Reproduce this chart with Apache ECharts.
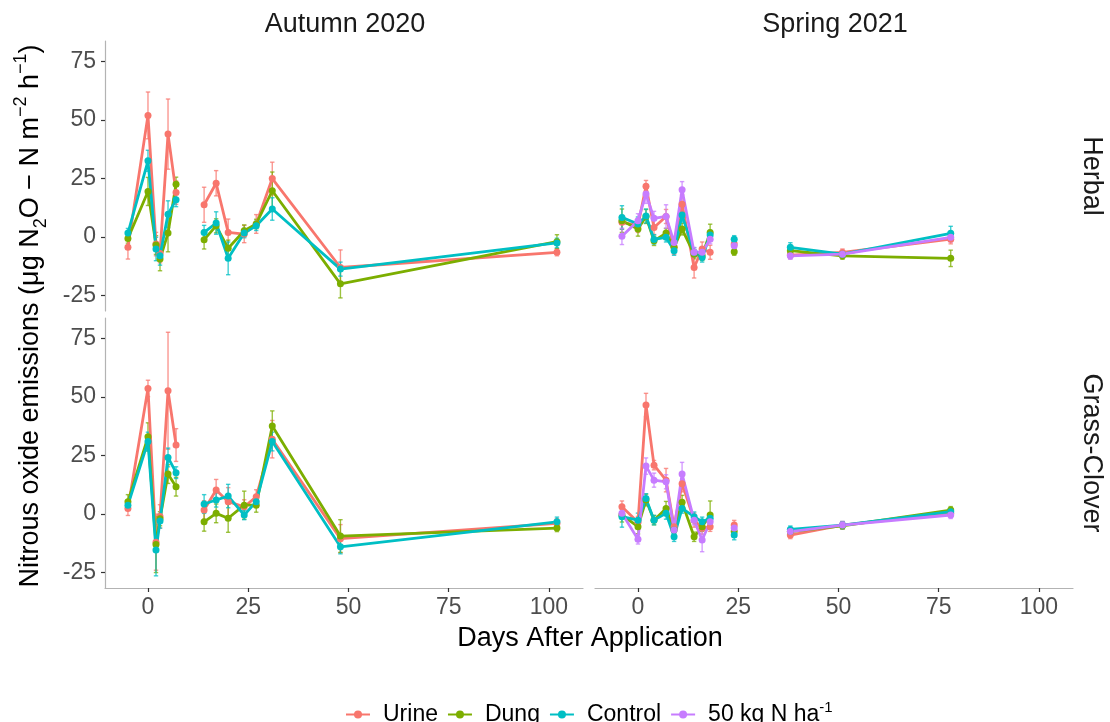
<!DOCTYPE html>
<html>
<head>
<meta charset="utf-8">
<script src="https://cdn.jsdelivr.net/npm/echarts@6/dist/echarts.min.js"></script>
<style>html,body{margin:0;padding:0;background:#fff;}#c{width:1110px;height:722px;}</style>
</head>
<body>
<div id="c"></div>
<script>
// ---- data ----
const seriesNames = ['Urine', 'Dung', 'Control', '50 kg N ha-1'];
const autumnDays = [-5, 0, 2, 3, 5, 7, 14, 17, 20, 24, 27, 31, 48, 102];
const springDays = [-4, 0, 2, 4, 7, 9, 11, 14, 16, 18, 24, 38, 51, 78];
const autumnBreaks = [6];        // line breaks before these indices
const springBreaks = [10, 11];
const xTicks = [0, 25, 50, 75, 100];
const yTicks = [-25, 0, 25, 50, 75];

// Herbal, Autumn 2020
const herbAutUrine    = [-4.4, 52, -3, -7, 44, 19, 13.8, 23, 2, 1.3, 5.6, 25, -13, -6.5];
const herbAutUrineErr = [5, 10, 5, 4, 15, 5, 7.5, 5.4, 5.7, 3.7, 4, 7, 7.5, 1.5];
const herbAutDung     = [-0.6, 19.5, -3.4, -9.4, 1.7, 22.6, -1.1, 4.8, -4.8, 2.7, 5.6, 19.8, -20, -2];
const herbAutDungErr  = [2, 6, 4, 5, 8, 3, 4, 3, 3.5, 2.5, 2, 8, 6, 3];
const herbAutCtrl     = [1.7, 32.6, -5.1, -8, 9.8, 16, 2, 6, -9.1, 1.7, 4.8, 12, -13.7, -2.5];
const herbAutCtrlErr  = [2, 4.5, 5, 4, 5.7, 3, 3, 4.8, 7, 2, 2, 4.8, 3, 2];

// Herbal, Spring 2021
const herbSprUrine    = [6.3, 5, 21.7, 4.1, 8.8, -4.4, 14, -13, -5.1, -6.5, -3, -7.7, -6.6, -0.9];
const herbSprUrineErr = [3, 3, 2.5, 3, 3, 3, 4, 4.5, 3, 3, 2, 1.5, 1.5, 2];
const herbSprDung     = [7, 3.4, 8.8, -1.6, 1.7, -4.4, 3.4, -7.3, -8, 2, -6.3, -5.8, -8, -9.1];
const herbSprDungErr  = [5, 3, 3, 2, 2, 2, 2.5, 2, 2, 3.5, 1.5, 2, 1.5, 3.5];
const herbSprCtrl     = [8.4, 5.6, 9, -1, -0.1, -5.8, 9.4, -6.5, -8.7, 0.9, -0.9, -4.4, -7.3, 1.6];
const herbSprCtrlErr  = [5, 3, 3, 2, 2, 2, 3, 2, 2, 2, 1.5, 2, 1.5, 3];
const herbSprFifty    = [0.3, 7, 18.4, 8, 8.8, -2.3, 20.2, -6.5, -6.5, -0.9, -3.7, -8, -7.3, -0.1];
const herbSprFiftyErr = [3.5, 3, 4, 3, 5, 2, 3.5, 2, 2, 2, 1.5, 1.5, 1.5, 2];

// Grass-Clover, Autumn 2020
const gcAutUrine    = [2.4, 53.7, -12, -1, 52.7, 29.5, 1.7, 10.3, 5.3, 3.1, 7.4, 32, -10.5, -4];
const gcAutUrineErr = [3, 3.5, 12, 5, 25, 7, 4, 4.5, 6, 3, 3, 8, 6, 2];
const gcAutDung     = [5.3, 33, -13, -2, 17.1, 11.7, -3.3, 0.3, -1.8, 3.8, 3.8, 37.6, -9.4, -6];
const gcAutDungErr  = [3, 6, 12, 3, 4, 4, 4, 4, 6, 6, 3, 6.5, 7, 1.5];
const gcAutCtrl     = [3.8, 31, -15.4, -3, 24.2, 17.7, 4.3, 6, 7.7, -0.4, 5.3, 31, -14, -3.3];
const gcAutCtrlErr  = [2, 4, 11, 3, 4, 2.5, 4, 3, 5, 2, 2, 4, 3, 2];

// Grass-Clover, Spring 2021
const gcSprUrine    = [3.1, -3.5, 46.6, 20.9, 14.5, -5.4, 13, -2.6, -6.1, -5.4, -4.7, -9, -4.7, 0.3];
const gcSprUrineErr = [2.5, 2.5, 5, 2, 5, 2.5, 3.5, 3, 2.5, 2, 2, 1.5, 1.5, 1.5];
const gcSprDung     = [-0.4, -5.4, 6, -2.6, 2.4, -6.8, 5, -9.7, -5.4, -0.4, -7.5, -7.5, -5, 1.7];
const gcSprDungErr  = [3, 3, 2.5, 2, 3, 2, 3, 2, 2, 6, 1.5, 1.5, 1.5, 1.5];
const gcSprCtrl     = [-1.1, -2.6, 6.7, -2.6, 0.3, -9.7, 2.4, -1.1, -3.3, -1.8, -9, -6.6, -4.7, 1];
const gcSprCtrlErr  = [4.5, 3, 2, 2, 2.5, 2, 2, 2, 2, 2, 2, 1.5, 1.5, 1.5];
const gcSprFifty    = [0.3, -10.8, 20.5, 14.5, 13.8, -6.8, 17.1, -2.6, -11.1, -3.3, -6, -7.5, -4.7, -0.4];
const gcSprFiftyErr = [2, 2, 3.5, 3, 3, 2, 5, 2, 5, 2, 1.5, 1.5, 1.5, 1.5];

// ---- styling / build ----
const colors = {'Urine': '#F8766D', 'Dung': '#7CAE00', 'Control': '#00BFC4', '50 kg N ha-1': '#C77CFF'};
const FONT = 'Liberation Sans, Arial, sans-serif';

const panels = [
  {grid: 0, days: autumnDays, breaks: autumnBreaks, sets: [
    ['Urine', herbAutUrine, herbAutUrineErr], ['Dung', herbAutDung, herbAutDungErr], ['Control', herbAutCtrl, herbAutCtrlErr]]},
  {grid: 1, days: springDays, breaks: springBreaks, sets: [
    ['Urine', herbSprUrine, herbSprUrineErr], ['Dung', herbSprDung, herbSprDungErr], ['Control', herbSprCtrl, herbSprCtrlErr], ['50 kg N ha-1', herbSprFifty, herbSprFiftyErr]]},
  {grid: 2, days: autumnDays, breaks: autumnBreaks, sets: [
    ['Urine', gcAutUrine, gcAutUrineErr], ['Dung', gcAutDung, gcAutDungErr], ['Control', gcAutCtrl, gcAutCtrlErr]]},
  {grid: 3, days: springDays, breaks: springBreaks, sets: [
    ['Urine', gcSprUrine, gcSprUrineErr], ['Dung', gcSprDung, gcSprDungErr], ['Control', gcSprCtrl, gcSprCtrlErr], ['50 kg N ha-1', gcSprFifty, gcSprFiftyErr]]}
];

const XMIN = -10.72, XMAX = 108.5, YMIN = -31.6, YMAX = 83.8;
const grids = [
  {left: 105, top: 41, width: 478, height: 270},
  {left: 595, top: 41, width: 478, height: 270},
  {left: 105, top: 318, width: 478, height: 270},
  {left: 595, top: 318, width: 478, height: 270}
];
const xAxes = grids.map((g, i) => {
  const bottom = i >= 2;
  return {
    type: 'value', gridIndex: i, min: XMIN, max: XMAX,
    axisLine: {show: bottom, onZero: false, lineStyle: {color: '#b3b3b3', width: 1.2}},
    axisTick: {show: bottom, customValues: xTicks, length: 4, lineStyle: {color: '#333', width: 1.2}},
    axisLabel: {show: bottom, customValues: xTicks, fontSize: 23, color: '#4d4d4d', fontFamily: FONT, margin: 8},
    splitLine: {show: false}
  };
});
const yAxes = grids.map((g, i) => {
  const left = i % 2 === 0;
  return {
    type: 'value', gridIndex: i, min: YMIN, max: YMAX,
    axisLine: {show: left, onZero: false, lineStyle: {color: '#b3b3b3', width: 1.2}},
    axisTick: {show: left, customValues: yTicks, length: 4, lineStyle: {color: '#333', width: 1.2}},
    axisLabel: {show: left, customValues: yTicks, fontSize: 23, color: '#4d4d4d', fontFamily: FONT, margin: 9},
    splitLine: {show: false}
  };
});

const lineSeries = [], errSeries = [];
panels.forEach(p => {
  p.sets.forEach(([name, vals, errs]) => {
    const data = [];
    p.days.forEach((d, k) => {
      if (p.breaks.indexOf(k) >= 0) data.push([(p.days[k - 1] + d) / 2, '-']);
      data.push([d, vals[k]]);
    });
    lineSeries.push({
      type: 'line', name: name, xAxisIndex: p.grid, yAxisIndex: p.grid,
      data: data, connectNulls: false, color: colors[name],
      symbol: 'circle', symbolSize: 7, showSymbol: true,
      lineStyle: {width: 2.8, color: colors[name]},
      itemStyle: {color: colors[name]}, emphasis: {disabled: true}, animation: false, z: 3
    });
    const edata = p.days.map((d, k) => [d, vals[k], errs[k]]);
    const col = colors[name];
    errSeries.push({
      type: 'custom', name: name + ' err', xAxisIndex: p.grid, yAxisIndex: p.grid,
      data: edata, encode: {x: 0, y: 1}, animation: false, z: 2, silent: true,
      renderItem: function (params, api) {
        const x = api.value(0), y = api.value(1), e = api.value(2);
        const t = api.coord([x, y + e]), b = api.coord([x, y - e]);
        const w = 2.2;
        const st = {stroke: col, lineWidth: 1.4, opacity: 0.75};
        return {type: 'group', children: [
          {type: 'line', shape: {x1: t[0], y1: t[1], x2: b[0], y2: b[1]}, style: st},
          {type: 'line', shape: {x1: t[0] - w, y1: t[1], x2: t[0] + w, y2: t[1]}, style: st},
          {type: 'line', shape: {x1: b[0] - w, y1: b[1], x2: b[0] + w, y2: b[1]}, style: st}
        ]};
      }
    });
  });
});

const chart = echarts.init(document.getElementById('c'), null, {renderer: 'canvas'});
chart.setOption({
  animation: false,
  backgroundColor: '#ffffff',
  grid: grids,
  xAxis: xAxes,
  yAxis: yAxes,
  legend: {
    data: seriesNames, left: 340, top: 695, itemWidth: 24, itemHeight: 10, itemGap: 9,
    textStyle: {color: '#000', fontSize: 23, fontFamily: FONT,
      rich: {t: {fontSize: 23, fontFamily: FONT, color: '#000', padding: [0, 0, 0, 8]},
             s: {fontSize: 15, fontFamily: FONT, color: '#000', verticalAlign: 'top', padding: [0, 0, 14, 0]}}},
    formatter: function (n) { return n === '50 kg N ha-1' ? '{t|50 kg N ha}{s|-1}' : '{t|' + n + '}'; }
  },
  graphic: [
    {type: 'text', style: {text: 'Autumn 2020', x: 345, y: 25, align: 'center', verticalAlign: 'middle', fontSize: 27, fill: '#1a1a1a', fontFamily: FONT}},
    {type: 'text', style: {text: 'Spring 2021', x: 835, y: 25, align: 'center', verticalAlign: 'middle', fontSize: 27, fill: '#1a1a1a', fontFamily: FONT}},
    {type: 'text', x: 1091, y: 176, rotation: -Math.PI / 2, style: {text: 'Herbal', x: 0, y: 0, align: 'center', verticalAlign: 'middle', fontSize: 27, fill: '#1a1a1a', fontFamily: FONT}},
    {type: 'text', x: 1091, y: 453, rotation: -Math.PI / 2, style: {text: 'Grass-Clover', x: 0, y: 0, align: 'center', verticalAlign: 'middle', fontSize: 27, fill: '#1a1a1a', fontFamily: FONT}},
    {type: 'text', style: {text: 'Days After Application', x: 590, y: 639, align: 'center', verticalAlign: 'middle', fontSize: 27, fill: '#000', fontFamily: FONT}},
    {type: 'text', x: 31, y: 316, rotation: Math.PI / 2, style: {
      text: '{n|Nitrous oxide emissions (μg N}{b|2}{n|O − N m}{p|−2}{n| h}{p|−1}{n|)}',
      x: 0, y: 0, align: 'center', verticalAlign: 'middle', fill: '#000', fontFamily: FONT,
      rich: {
        n: {fontSize: 27, fontFamily: FONT, color: '#000', lineHeight: 38},
        b: {fontSize: 18, fontFamily: FONT, color: '#000', verticalAlign: 'bottom', lineHeight: 38, padding: [12, 0, 0, 0]},
        p: {fontSize: 18, fontFamily: FONT, color: '#000', verticalAlign: 'top', lineHeight: 38, padding: [0, 0, 16, 0]}
      }}}
  ],
  series: lineSeries.concat(errSeries)
});
</script>
</body>
</html>
